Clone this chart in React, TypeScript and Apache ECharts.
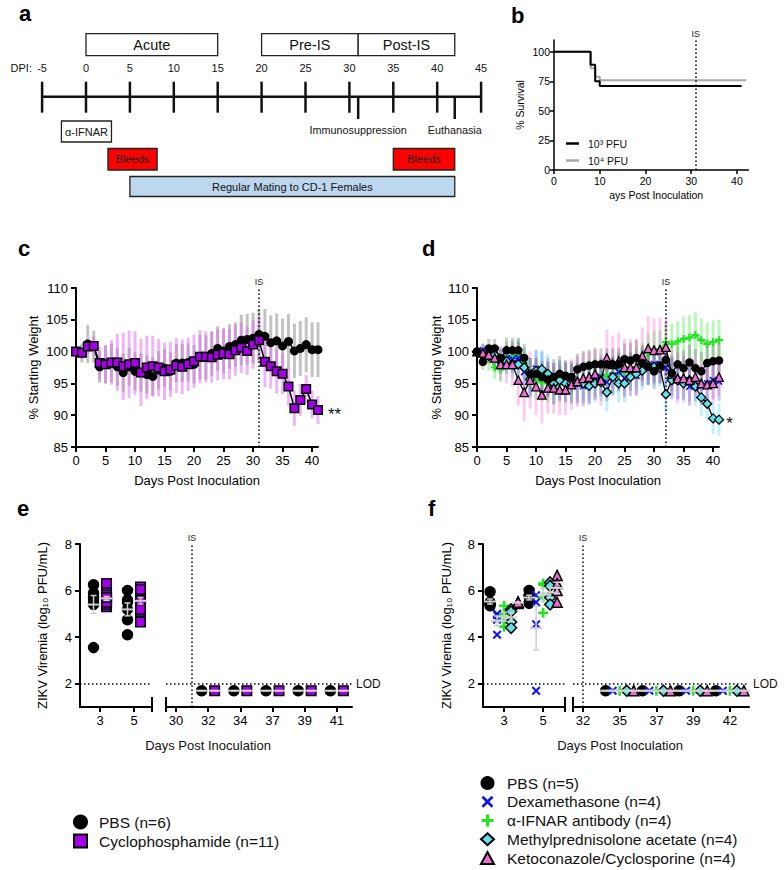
import React, { useEffect, useRef } from "react";
import * as echarts from "echarts";

const FONT = "'Liberation Sans', Arial, Helvetica, sans-serif";

/* ---------------- panel a : study timeline ---------------- */
const timelineTicks = [-5, 0, 5, 10, 15, 20, 25, 30, 35, 40, 45];
const phaseNames = ["Acute", "Pre-IS", "Post-IS"];
const phaseStart = [0, 20, 31];
const phaseEnd = [15, 31, 42];
const eventNames = ["Immunosuppression", "Euthanasia"];
const eventDays = [31, 42];
const activityNames = ["α-IFNAR", "Bleeds", "Bleeds", "Regular Mating to CD-1 Females"];
const activityStart = [-2.8, 2.5, 35, 5];
const activityEnd = [2.9, 8.1, 42, 42];
const activityFill = ["#ffffff", "#ff0000", "#ff0000", "#bdd7ee"];

/* ---------------- panel b : survival ---------------- */
const survivalDays3 = [0, 8, 9, 10, 41];
const survival3 = [100, 89, 75, 71, 71];
const survivalDays4 = [0, 8, 9, 10, 42];
const survival4 = [100, 86, 79, 76, 76];
const isDayB = 31;

/* ---------------- panels c, d : weights ---------------- */
const weightDays = [0, 1, 2, 3, 4, 5, 6, 7, 8, 9, 10, 11, 12, 13, 14, 15, 16, 17, 18, 19, 20,
  21, 22, 23, 24, 25, 26, 27, 28, 29, 30, 31, 32, 33, 34, 35, 36, 37, 38, 39, 40, 41];
const isDayC = 31;
const isDayD = 32;

const pbsWeightC = [100, 99.8, 101.2, 100.8, 97.6, 98.0, 98.2, 97.6, 96.7, 97.6,
  96.9, 96.7, 96.4, 96.1, 97.1, 97.4, 96.9, 98.2, 98.2, 98.3,
  98.0, 99.1, 99.1, 99.7, 100.5, 100.1, 100.8, 101.1, 101.8, 101.9,
  102.1, 102.7, 102.4, 101.4, 101.7, 100.9, 101.6, 100.1, 100.5, 101.1,
  100.3, 100.3];
const pbsSdC = [0, 1.5, 3, 2.5, 2.5, 3, 3, 3, 3, 3,
  3, 3, 3, 3, 3, 3, 3, 3, 3, 3,
  3, 3.5, 3.5, 3.5, 3.5, 3.5, 3.5, 3.5, 4, 4,
  4, 4, 4.3, 4.3, 4.3, 4.3, 4.3, 4.3, 4.3, 4.3,
  4.3, 4.3];
const cycWeightC = [100, 99.8, 100.8, 100.9, 98.2, 98.0, 98.3, 98.3, 97.7, 98.0,
  98.2, 96.7, 97.5, 97.7, 97.5, 96.9, 97.2, 97.8, 97.6, 98.0,
  98.5, 99.2, 99.2, 99.1, 99.5, 99.7, 99.6, 100.2, 100.6, 100.1,
  101.1, 101.8, 98.4, 97.7, 96.9, 96.5, 94.5, 91.1, 92.4, 94.1,
  91.7, 90.8];
const cycSdC = [0, 1, 1.2, 1.5, 2.5, 3, 3.5, 4.5, 5.3, 5.3,
  5, 5.3, 5, 4.8, 4.5, 4.5, 4.3, 4.3, 4.3, 4.2,
  4.2, 4.2, 4, 4, 4, 4, 4, 4, 4, 3.8,
  3.8, 3.5, 4, 3.5, 3.5, 3.2, 3, 2.8, 2.5, 2.2,
  2.2, 2.2];

const pbsWeightD = [100, 98.4, 100.5, 100.5, 99.0, 100.2, 100.2, 100.2, 99.0, 96.5,
  96.5, 96.0, 95.6, 96.0, 96.5, 96.2, 96.0, 97.2, 97.6, 97.8,
  98.0, 98.0, 98.0, 98.0, 98.0, 98.8, 98.6, 99.0, 98.2, 97.6,
  96.9, 97.8, 98.7, 96.6, 98.0, 97.4, 98.3, 97.4, 96.9, 98.2,
  98.5, 98.6];
const pbsSdD = [0, 1.2, 1.5, 1.5, 1.8, 2, 2, 2, 2.2, 2.5,
  2.5, 2.5, 2.8, 2.8, 2.8, 2.5, 2.5, 2.5, 2.5, 2.5,
  2.5, 2.5, 2.5, 2.5, 2.5, 2.5, 2.8, 2.8, 2.8, 2.8,
  2.8, 2.8, 2.5, 2.8, 2.8, 2.8, 2.8, 3, 3, 3,
  3, 3];
const dexWeightD = [100, 100.2, 99.5, 99.0, 98.5, 99.0, 98.8, 99.0, 96.8, 96.0,
  97.3, 97.0, 96.0, 95.0, 95.5, 95.2, 95.0, 95.0, 94.6, 95.0,
  95.5, 96.0, 95.2, 96.2, 96.8, 95.8, 96.8, 96.2, 97.5, 97.7,
  98.0, 98.0, 97.5, 96.0, 95.5, 95.5, 94.5, 95.2, 94.6, 95.0,
  95.5, 95.3];
const dexSdD = [0, 1, 1.2, 1.5, 1.8, 2, 2.2, 2.5, 2.8, 3,
  3, 3, 3, 3.2, 3.2, 3.2, 3.2, 3.2, 3.2, 3.2,
  3, 3, 3, 3, 3, 3, 3, 3, 3, 3,
  3, 3, 2.8, 3, 3, 3, 3, 3, 3, 3,
  3, 3];
const ifnarWeightD = [100, 99.8, 99.0, 97.5, 97.2, 99.0, 99.3, 99.5, 98.2, 96.0,
  95.5, 95.2, 95.0, 94.6, 95.0, 95.3, 95.0, 95.2, 95.4, 95.6,
  96.0, 96.0, 96.2, 96.4, 96.6, 96.8, 97.0, 97.5, 98.5, 99.8,
  100.2, 100.4, 101.5, 101.2, 101.6, 102.0, 102.2, 102.6, 101.8, 101.2,
  101.5, 101.8];
const ifnarSdD = [0, 1.5, 2, 1.8, 2, 2.5, 2.5, 2.5, 2.5, 3,
  3, 3, 3, 3, 3, 3, 3, 3, 3, 3,
  3, 3, 3, 3, 3, 3, 3, 3, 3, 3,
  3, 3, 3, 3.2, 3.2, 3.5, 3.5, 3.6, 3.4, 3.4,
  3.4, 3.2];
const mpaWeightD = [100, 99.5, 99.3, 99.5, 98.5, 98.5, 98.0, 98.0, 97.5, 95.6,
  97.0, 97.2, 96.5, 95.0, 95.5, 95.0, 95.0, 95.2, 95.0, 94.6,
  95.0, 95.2, 93.6, 96.0, 95.0, 95.0, 96.0, 96.5, 97.0, 97.8,
  97.6, 97.5, 93.3, 95.5, 95.5, 95.0, 95.5, 94.5, 92.8, 91.8,
  89.5, 89.3];
const mpaSdD = [0, 1, 1.2, 1.5, 1.8, 2, 2.2, 2.5, 2.8, 3,
  3, 3, 3, 3, 3, 3, 3, 3, 3, 3,
  3, 3, 3, 3, 3, 3, 3, 3, 3, 3,
  3, 3, 3, 3, 3, 3, 3, 3, 3, 2.8,
  2.5, 2.5];
const ketoWeightD = [100, 99.8, 99.5, 99.0, 98.0, 98.0, 98.0, 95.5, 93.6, 95.5,
  94.5, 93.2, 94.3, 94.3, 94.0, 94.0, 94.8, 95.3, 95.8, 96.0,
  96.5, 95.5, 99.0, 98.0, 98.5, 97.5, 97.5, 97.5, 99.3, 100.5,
  100.2, 100.3, 100.7, 96.5, 95.8, 95.8, 95.5, 96.0, 95.0, 94.8,
  95.0, 96.0];
const ketoSdD = [0, 1.2, 1.5, 1.8, 2.5, 3, 3.5, 4, 4.5, 4.5,
  4.5, 4.5, 4, 4, 4, 4, 4, 4, 4, 4,
  4, 4, 4.5, 4.5, 4.5, 4.5, 4.5, 4.5, 4.5, 5,
  5, 5, 4.5, 4, 4, 3.5, 3.5, 3, 3, 3,
  3, 3];

/* ---------------- panel e : viremia ---------------- */
const earlyDaysE = ["3", "5"];
const lateDaysE = ["30", "32", "34", "37", "39", "41"];
const isPosE = 0.5; // between day 30 and day 32
const pbsVirE3 = [6.25, 5.9, 5.7, 5.4, 5.6, 3.55];
const pbsVirE5 = [6.0, 5.6, 5.5, 5.2, 4.75, 4.1];
const cycVirE3 = [6.3, 5.9, 5.7, 5.6, 5.5, 5.3, 5.8, 5.4, 5.6, 5.5, 5.7];
const cycVirE5 = [6.15, 6.0, 5.8, 5.7, 5.4, 5.1, 4.65, 5.6, 5.5, 5.2, 6.05];
const pbsLateE = [null, 1.7, 1.7, 1.7, 1.7, 1.7];
const cycLateE = [null, 1.7, 1.7, 1.7, 1.7, 1.7];

/* ---------------- panel f : viremia ---------------- */
const earlyDaysF = ["3", "5"];
const lateDaysF = ["32", "35", "37", "39", "42"];
const isPosF = 0; // day 32
const pbsVirF3 = [5.95, 5.45, 5.35, 5.4, 5.5];
const pbsVirF5 = [6.0, 5.8, 5.75, 5.5, 5.45];
const dexVirF3 = [5.0, 4.75, 4.1, 4.95];
const dexVirF5 = [5.8, 5.5, 4.55, 1.7];
const ifnarVirF3 = [5.35, 5.0, 4.7, 4.45];
const ifnarVirF5 = [6.3, 6.25, 5.7, 5.05];
const mpaVirF3 = [5.2, 5.1, 4.65, 4.4];
const mpaVirF5 = [6.35, 6.2, 5.7, 5.4];
const ketoVirF3 = [5.5, 5.5, 5.45, 5.5];
const ketoVirF5 = [6.65, 6.3, 6.0, 5.5];
const lateF = [null, 1.7, 1.7, 1.7, 1.7];
const lodValue = 2;

/* ---------------- layout ---------------- */
const GRIDS = [
  { left: 554, top: 40, width: 194.4, height: 130 }, // b
  { left: 76, top: 288, width: 242, height: 159 }, // c
  { left: 477, top: 288, width: 242, height: 159 }, // d
  { left: 80, top: 544, width: 72, height: 163 }, // e early
  { left: 166, top: 544, width: 186, height: 163 }, // e late
  { left: 483, top: 544, width: 82, height: 163 }, // f early
  { left: 573, top: 544, width: 176, height: 163 }, // f late
];

const X_PATH = "path://M0,1.6L1.6,0L5,3.4L8.4,0L10,1.6L6.6,5L10,8.4L8.4,10L5,6.6L1.6,10L0,8.4L3.4,5Z";
const PLUS_PATH = "path://M3.7,0H6.3V3.7H10V6.3H6.3V10H3.7V6.3H0V3.7H3.7Z";

const COL = {
  purple: "#a400e8",
  blue: "#1414f0",
  green: "#22e622",
  cyan: "#62e0ea",
  pink: "#ee6bd0",
};

const mean = (a: number[]) => a.reduce((s, v) => s + v, 0) / a.length;
const sem = (a: number[]) => {
  if (a.length < 2) return 0;
  const m = mean(a);
  const sd = Math.sqrt(a.reduce((s, v) => s + (v - m) * (v - m), 0) / (a.length - 1));
  return sd / Math.sqrt(a.length);
};

function groupsFromLate(late: (number | null)[]) {
  return late.map((v) => (v == null ? [] : [v]));
}
function pointsOf(groups: number[][]) {
  const out: number[][] = [];
  groups.forEach((vals, i) => vals.forEach((v) => out.push([i, v])));
  return out;
}
function barRowsOf(groups: number[][]) {
  const out: number[][] = [];
  groups.forEach((vals, i) => {
    if (!vals.length) return;
    const m = mean(vals);
    const s = sem(vals);
    out.push([i, m - s, m + s, m]);
  });
  return out;
}

function xAxisCfg(grid: number, o: any) {
  return {
    gridIndex: grid,
    type: "value",
    min: o.min,
    max: o.max,
    interval: o.interval,
    axisLine: { show: true, onZero: false, lineStyle: { color: "#000", width: o.lw ?? 2 } },
    axisTick: { show: true, length: o.tick ?? 5, lineStyle: { color: "#000", width: o.lw ?? 2 }, customValues: o.ticks },
    axisLabel: {
      color: "#000", fontSize: o.fs ?? 13, margin: o.margin ?? 7, customValues: o.ticks,
      formatter: o.formatter,
    },
    splitLine: { show: false },
    name: o.name,
    nameLocation: "middle",
    nameGap: o.nameGap,
    nameTextStyle: { color: "#000", fontSize: o.nfs ?? 13, padding: o.namePad },
  };
}
function yAxisCfg(grid: number, o: any) {
  if (o.hidden) {
    return {
      gridIndex: grid, type: "value", min: o.min, max: o.max,
      axisLine: { show: false }, axisTick: { show: false }, axisLabel: { show: false }, splitLine: { show: false },
    };
  }
  return {
    gridIndex: grid,
    type: "value",
    min: o.min,
    max: o.max,
    interval: o.interval,
    axisLine: { show: true, onZero: false, lineStyle: { color: "#000", width: o.lw ?? 2 } },
    axisTick: { show: true, length: o.tick ?? 5, lineStyle: { color: "#000", width: o.lw ?? 2 }, customValues: o.ticks },
    axisLabel: { color: "#000", fontSize: o.fs ?? 13, margin: o.margin ?? 8, customValues: o.ticks },
    splitLine: { show: false },
    name: o.name,
    nameLocation: "middle",
    nameRotate: 90,
    nameGap: o.nameGap,
    nameTextStyle: { color: "#000", fontSize: o.nfs ?? 13 },
  };
}

function vbar(color: string, width: number) {
  return (_p: any, api: any) => {
    const a = api.coord([api.value(0), api.value(1)]);
    const b = api.coord([api.value(0), api.value(2)]);
    return {
      type: "line",
      shape: { x1: a[0], y1: a[1], x2: b[0], y2: b[1] },
      style: { stroke: color, lineWidth: width },
    };
  };
}
function groupBar(offset: number, color: string) {
  return (_p: any, api: any) => {
    const i = api.value(0);
    const a = api.coord([i, api.value(1)]);
    const b = api.coord([i, api.value(2)]);
    const c = api.coord([i, api.value(3)]);
    const x = a[0] + offset;
    const st = { stroke: color, lineWidth: 1.5 };
    return {
      type: "group",
      children: [
        { type: "line", shape: { x1: x, y1: a[1], x2: x, y2: b[1] }, style: st },
        { type: "line", shape: { x1: x - 3, y1: a[1], x2: x + 3, y2: a[1] }, style: st },
        { type: "line", shape: { x1: x - 3, y1: b[1], x2: x + 3, y2: b[1] }, style: st },
        { type: "line", shape: { x1: x - 6, y1: c[1], x2: x + 6, y2: c[1] }, style: { stroke: color, lineWidth: 2 } },
      ],
    };
  };
}

const dotted = [1.5, 2.5];
function isLine(value: number) {
  return {
    symbol: "none",
    silent: true,
    lineStyle: { type: dotted, color: "#000", width: 1.5 },
    label: { show: true, formatter: "IS", position: "end", fontSize: 9, color: "#222", distance: 2 },
    data: [{ xAxis: value }],
  };
}
function lodLine(withLabel: boolean) {
  return {
    symbol: "none",
    silent: true,
    lineStyle: { type: dotted, color: "#000", width: 1.5 },
    label: { show: withLabel, formatter: "LOD", position: "end", fontSize: 12, color: "#111", distance: 4 },
    data: [{ yAxis: lodValue }],
  };
}

function buildOption() {
  const series: any[] = [];

  /* ----- e ----- */
  const eGroups = [
    { name: "PBS (n=6)", early: [pbsVirE3, pbsVirE5], late: groupsFromLate(pbsLateE), symbol: "circle", size: 10, color: "#000", border: "#000", off: -6.5 },
    { name: "Cyclophosphamide (n=11)", early: [cycVirE3, cycVirE5], late: groupsFromLate(cycLateE), symbol: "rect", size: 9.5, color: COL.purple, border: "#000", off: 6.5 },
  ];
  eGroups.forEach((g, k) => {
    [[3, g.early], [4, g.late]].forEach(([ax, groups]: any) => {
      series.push({
        name: g.name, type: "scatter", xAxisIndex: ax, yAxisIndex: ax,
        symbol: g.symbol, symbolSize: g.size, symbolOffset: [g.off, 0],
        itemStyle: { color: g.color, borderColor: g.border, borderWidth: 1.5, opacity: 1 },
        data: pointsOf(groups), z: 3,
        markLine: k === 0 ? (ax === 3 ? lodLine(false) : lodLine(true)) : undefined,
      });
      series.push({
        type: "custom", xAxisIndex: ax, yAxisIndex: ax, renderItem: groupBar(g.off, "#cfcfcf"),
        encode: { x: 0, y: [1, 2] }, data: barRowsOf(groups), z: 4, silent: true,
      });
    });
  });
  series.push({
    type: "scatter", xAxisIndex: 4, yAxisIndex: 4, data: [], markLine: isLine(isPosE), silent: true,
  });

  /* ----- f ----- */
  const fGroups = [
    { name: "PBS (n=5)", early: [pbsVirF3, pbsVirF5], symbol: "circle", size: 10, color: "#000", bw: 1.5, off: -14 },
    { name: "Dexamethasone (n=4)", early: [dexVirF3, dexVirF5], symbol: X_PATH, size: 9, color: COL.blue, bw: 0, off: -7 },
    { name: "α-IFNAR antibody (n=4)", early: [ifnarVirF3, ifnarVirF5], symbol: PLUS_PATH, size: 10, color: COL.green, bw: 0, off: 0 },
    { name: "Methylprednisolone acetate (n=4)", early: [mpaVirF3, mpaVirF5], symbol: "diamond", size: 11, color: COL.cyan, bw: 1.5, off: 7 },
    { name: "Ketoconazole/Cyclosporine (n=4)", early: [ketoVirF3, ketoVirF5], symbol: "triangle", size: 10, color: COL.pink, bw: 1.5, off: 14 },
  ];
  fGroups.forEach((g, k) => {
    [[5, g.early], [6, groupsFromLate(lateF)]].forEach(([ax, groups]: any) => {
      series.push({
        name: g.name, type: "scatter", xAxisIndex: ax, yAxisIndex: ax,
        symbol: g.symbol, symbolSize: g.size, symbolOffset: [g.off, 0],
        itemStyle: { color: g.color, borderColor: "#000", borderWidth: g.bw, opacity: 1 },
        data: pointsOf(groups), z: 3,
        markLine: k === 0 ? (ax === 5 ? lodLine(false) : lodLine(true)) : undefined,
      });
      series.push({
        type: "custom", xAxisIndex: ax, yAxisIndex: ax, renderItem: groupBar(g.off, "#cfcfcf"),
        encode: { x: 0, y: [1, 2] }, data: barRowsOf(groups), z: 4, silent: true,
      });
    });
  });
  series.push({
    type: "scatter", xAxisIndex: 6, yAxisIndex: 6, data: [], markLine: isLine(isPosF), silent: true,
  });

  /* ----- b ----- */
  series.push({
    name: "10^4 PFU", type: "line", step: "end", xAxisIndex: 0, yAxisIndex: 0,
    data: survivalDays4.map((d, i) => [d, survival4[i]]), symbol: "none",
    lineStyle: { color: "#a8a8a8", width: 2 }, itemStyle: { color: "#a8a8a8" }, z: 2,
  });
  series.push({
    name: "10^3 PFU", type: "line", step: "end", xAxisIndex: 0, yAxisIndex: 0,
    data: survivalDays3.map((d, i) => [d, survival3[i]]), symbol: "none",
    lineStyle: { color: "#000", width: 2 }, itemStyle: { color: "#000" }, z: 3,
    markLine: isLine(isDayB),
  });

  /* ----- c ----- */
  const sdRows = (v: number[], sd: number[]) => weightDays.map((d, i) => [d, v[i] - sd[i], v[i] + sd[i]]);
  const lineData = (v: number[], star?: string, dist = 6) =>
    weightDays.map((d, i) =>
      star && i === weightDays.length - 1
        ? { value: [d, v[i]], label: { show: true, formatter: star, position: "right", distance: dist, fontSize: 17, color: "#111", offset: [0, 4] } }
        : [d, v[i]]
    );
  series.push({ type: "custom", xAxisIndex: 1, yAxisIndex: 1, renderItem: vbar("rgba(110,110,110,0.42)", 3), encode: { x: 0, y: [1, 2] }, data: sdRows(pbsWeightC, pbsSdC), z: 1, silent: true });
  series.push({ type: "custom", xAxisIndex: 1, yAxisIndex: 1, renderItem: vbar("rgba(222,110,240,0.5)", 3), encode: { x: 0, y: [1, 2] }, data: sdRows(cycWeightC, cycSdC), z: 1, silent: true });
  series.push({
    name: "PBS (n=6)", type: "line", xAxisIndex: 1, yAxisIndex: 1, data: lineData(pbsWeightC),
    symbol: "circle", symbolSize: 9, lineStyle: { color: "#000", width: 1.5 }, itemStyle: { color: "#000" }, z: 3,
    markLine: isLine(isDayC),
  });
  series.push({
    name: "Cyclophosphamide (n=11)", type: "line", xAxisIndex: 1, yAxisIndex: 1, data: lineData(cycWeightC, "**", 5),
    symbol: "rect", symbolSize: 8.5, lineStyle: { color: "#000", width: 1.5 },
    itemStyle: { color: COL.purple, borderColor: "#000", borderWidth: 1.5 }, z: 4,
  });

  /* ----- d ----- */
  const dSets = [
    { name: "α-IFNAR antibody (n=4)", v: ifnarWeightD, sd: ifnarSdD, bar: "rgba(40,230,40,0.32)", line: COL.green, symbol: PLUS_PATH, size: 8, fill: COL.green, bw: 0 },
    { name: "Dexamethasone (n=4)", v: dexWeightD, sd: dexSdD, bar: "rgba(60,60,255,0.3)", line: COL.blue, symbol: X_PATH, size: 7.5, fill: COL.blue, bw: 0 },
    { name: "Methylprednisolone acetate (n=4)", v: mpaWeightD, sd: mpaSdD, bar: "rgba(60,210,240,0.32)", line: "#000", symbol: "diamond", size: 9, fill: COL.cyan, bw: 1.3 },
    { name: "Ketoconazole/Cyclosporine (n=4)", v: ketoWeightD, sd: ketoSdD, bar: "rgba(245,110,210,0.35)", line: "#000", symbol: "triangle", size: 8.5, fill: COL.pink, bw: 1.3 },
    { name: "PBS (n=5)", v: pbsWeightD, sd: pbsSdD, bar: "rgba(90,90,90,0.3)", line: "#000", symbol: "circle", size: 8.5, fill: "#000", bw: 0 },
  ];
  dSets.forEach((s) => {
    series.push({ type: "custom", xAxisIndex: 2, yAxisIndex: 2, renderItem: vbar(s.bar, 3), encode: { x: 0, y: [1, 2] }, data: sdRows(s.v, s.sd), z: 1, silent: true });
  });
  dSets.forEach((s, k) => {
    series.push({
      name: s.name, type: "line", xAxisIndex: 2, yAxisIndex: 2,
      data: lineData(s.v, s.name.startsWith("Methyl") ? "*" : undefined, 2),
      symbol: s.symbol, symbolSize: s.size, lineStyle: { color: s.line, width: 1.3 },
      itemStyle: { color: s.fill, borderColor: "#000", borderWidth: s.bw }, z: 3 + k,
      markLine: k === 4 ? isLine(isDayD) : undefined,
    });
  });

  /* ----- graphics ----- */
  const g: any[] = [];
  const ax = (d: number) => 86 + 8.78 * d;
  const lineY = 96.7;
  const txt = (x: number, y: number, text: string, fs: number, extra: any = {}) => ({
    type: "text", x, y, silent: true,
    style: { text, fontSize: fs, fontFamily: FONT, fill: "#111", align: "center", verticalAlign: "middle", ...extra },
  });
  g.push({ type: "line", silent: true, shape: { x1: ax(-5), y1: lineY, x2: ax(45), y2: lineY }, style: { stroke: "#111", lineWidth: 2.5 } });
  timelineTicks.forEach((d) => {
    g.push({ type: "line", silent: true, shape: { x1: ax(d), y1: 81.7, x2: ax(d), y2: 112.7 }, style: { stroke: "#111", lineWidth: 2.5 } });
    g.push(txt(ax(d), 67.7, String(d), 11));
  });
  g.push(txt(32, 67.7, "DPI:", 11, { align: "right" }));
  phaseNames.forEach((n, i) => {
    g.push({ type: "rect", silent: true, shape: { x: ax(phaseStart[i]), y: 33.7, width: ax(phaseEnd[i]) - ax(phaseStart[i]), height: 22 }, style: { fill: "#fff", stroke: "#222", lineWidth: 1.3 } });
    g.push(txt((ax(phaseStart[i]) + ax(phaseEnd[i])) / 2, 45, n, 14.5));
  });
  eventDays.forEach((d, i) => {
    g.push({ type: "line", silent: true, shape: { x1: ax(d), y1: lineY, x2: ax(d), y2: 119 }, style: { stroke: "#111", lineWidth: 2.5 } });
    g.push(txt(ax(d), 129.5, eventNames[i], 10.8));
  });
  const rowTop = [121, 148.5, 148.5, 176.5];
  const rowH = [21, 21.5, 21.5, 20];
  activityNames.forEach((n, i) => {
    const x0 = ax(activityStart[i]);
    const x1 = ax(activityEnd[i]);
    g.push({ type: "rect", silent: true, shape: { x: x0, y: rowTop[i], width: x1 - x0, height: rowH[i] }, style: { fill: activityFill[i], stroke: "#222", lineWidth: 1.3 } });
    g.push(txt((x0 + x1) / 2, rowTop[i] + rowH[i] / 2, n, 11));
  });

  // panel letters
  const letters: [string, number, number][] = [["a", 19, 13], ["b", 511, 15], ["c", 18, 248], ["d", 422, 248], ["e", 17, 508], ["f", 428, 508]];
  letters.forEach(([l, x, y]) => g.push(txt(x, y, l, 22, { align: "left", fontWeight: "bold", fill: "#000" })));

  // axis breaks for e and f
  const breakX = [
    GRIDS[3].left + GRIDS[3].width, GRIDS[4].left,
    GRIDS[5].left + GRIDS[5].width, GRIDS[6].left,
  ];
  const axisY = GRIDS[3].top + GRIDS[3].height;
  breakX.forEach((x) => g.push({ type: "line", silent: true, shape: { x1: x, y1: axisY - 10, x2: x, y2: axisY + 5 }, style: { stroke: "#000", lineWidth: 2 } }));
  g.push(txt(208, 745, "Days Post Inoculation", 13));
  g.push(txt(620, 745, "Days Post Inoculation", 13));

  const fmt = (labels: string[]) => (v: number) => labels[Math.round(v)] ?? "";

  return {
    animation: false,
    backgroundColor: "#fff",
    textStyle: { fontFamily: FONT },
    grid: GRIDS.map((gr) => ({ ...gr, containLabel: false, outerBoundsMode: "none" })),
    xAxis: [
      xAxisCfg(0, { min: 0, max: 42.5, ticks: [0, 10, 20, 30, 40], lw: 1.5, tick: 4, fs: 10.5, margin: 5, name: "ays Post Inoculation", nameGap: 19, nfs: 10.5, namePad: [0, 0, 0, 10] }),
      xAxisCfg(1, { min: 0, max: 41, ticks: [0, 5, 10, 15, 20, 25, 30, 35, 40], name: "Days Post Inoculation", nameGap: 27 }),
      xAxisCfg(2, { min: 0, max: 41, ticks: [0, 5, 10, 15, 20, 25, 30, 35, 40], name: "Days Post Inoculation", nameGap: 27 }),
      xAxisCfg(3, { min: -0.59, max: 1.53, ticks: [0, 1], formatter: fmt(earlyDaysE) }),
      xAxisCfg(4, { min: -0.31, max: 5.47, ticks: [0, 1, 2, 3, 4, 5], formatter: fmt(lateDaysE) }),
      xAxisCfg(5, { min: -0.54, max: 1.56, ticks: [0, 1], formatter: fmt(earlyDaysF) }),
      xAxisCfg(6, { min: -0.27, max: 4.52, ticks: [0, 1, 2, 3, 4], formatter: fmt(lateDaysF) }),
    ],
    yAxis: [
      yAxisCfg(0, { min: 0, max: 110, ticks: [0, 25, 50, 75, 100], lw: 1.5, tick: 4, fs: 10.5, margin: 4, name: "% Survival", nameGap: 29, nfs: 10.5 }),
      yAxisCfg(1, { min: 85, max: 110, interval: 5, name: "% Starting Weight", nameGap: 36 }),
      yAxisCfg(2, { min: 85, max: 110, interval: 5, name: "% Starting Weight", nameGap: 33 }),
      yAxisCfg(3, { min: 1, max: 8, ticks: [2, 4, 6, 8], name: "ZIKV Viremia (log₁₀ PFU/mL)", nameGap: 31 }),
      yAxisCfg(4, { min: 1, max: 8, hidden: true }),
      yAxisCfg(5, { min: 1, max: 8, ticks: [2, 4, 6, 8], name: "ZIKV Viremia (log₁₀ PFU/mL)", nameGap: 30 }),
      yAxisCfg(6, { min: 1, max: 8, hidden: true }),
    ],
    legend: [
      {
        orient: "vertical", left: 566, top: 138, padding: 0, itemWidth: 13, itemHeight: 2.5, itemGap: 6, icon: "rect",
        selectedMode: false, data: ["10^3 PFU", "10^4 PFU"],
        formatter: (n: string) => (n === "10^3 PFU" ? "10³ PFU" : "10⁴ PFU"),
        textStyle: { fontSize: 10.5, color: "#111", padding: [0, 0, 0, 4] },
      },
      {
        orient: "vertical", left: 73, top: 814, padding: 0, itemWidth: 13, itemHeight: 13, itemGap: 3,
        selectedMode: false, data: ["PBS (n=6)", "Cyclophosphamide (n=11)"],
        textStyle: { fontSize: 15.5, lineHeight: 16, color: "#111", padding: [0, 0, 0, 7] },
      },
      {
        orient: "vertical", left: 480, top: 775, padding: 0, itemWidth: 13, itemHeight: 12, itemGap: 2.75,
        selectedMode: false, height: 95,
        data: fGroups.map((x) => x.name),
        textStyle: { fontSize: 15.5, lineHeight: 16, color: "#111", padding: [0, 0, 0, 8] },
      },
    ],
    graphic: { elements: g },
    series,
  };
}

export default function App() {
  const ref = useRef<HTMLDivElement>(null);
  useEffect(() => {
    document.body.style.margin = "0";
    const chart = echarts.init(ref.current as HTMLDivElement, null, { renderer: "svg" });
    chart.setOption(buildOption() as any);
    return () => chart.dispose();
  }, []);
  return <div ref={ref} style={{ width: 784, height: 870, background: "#fff" }} />;
}
